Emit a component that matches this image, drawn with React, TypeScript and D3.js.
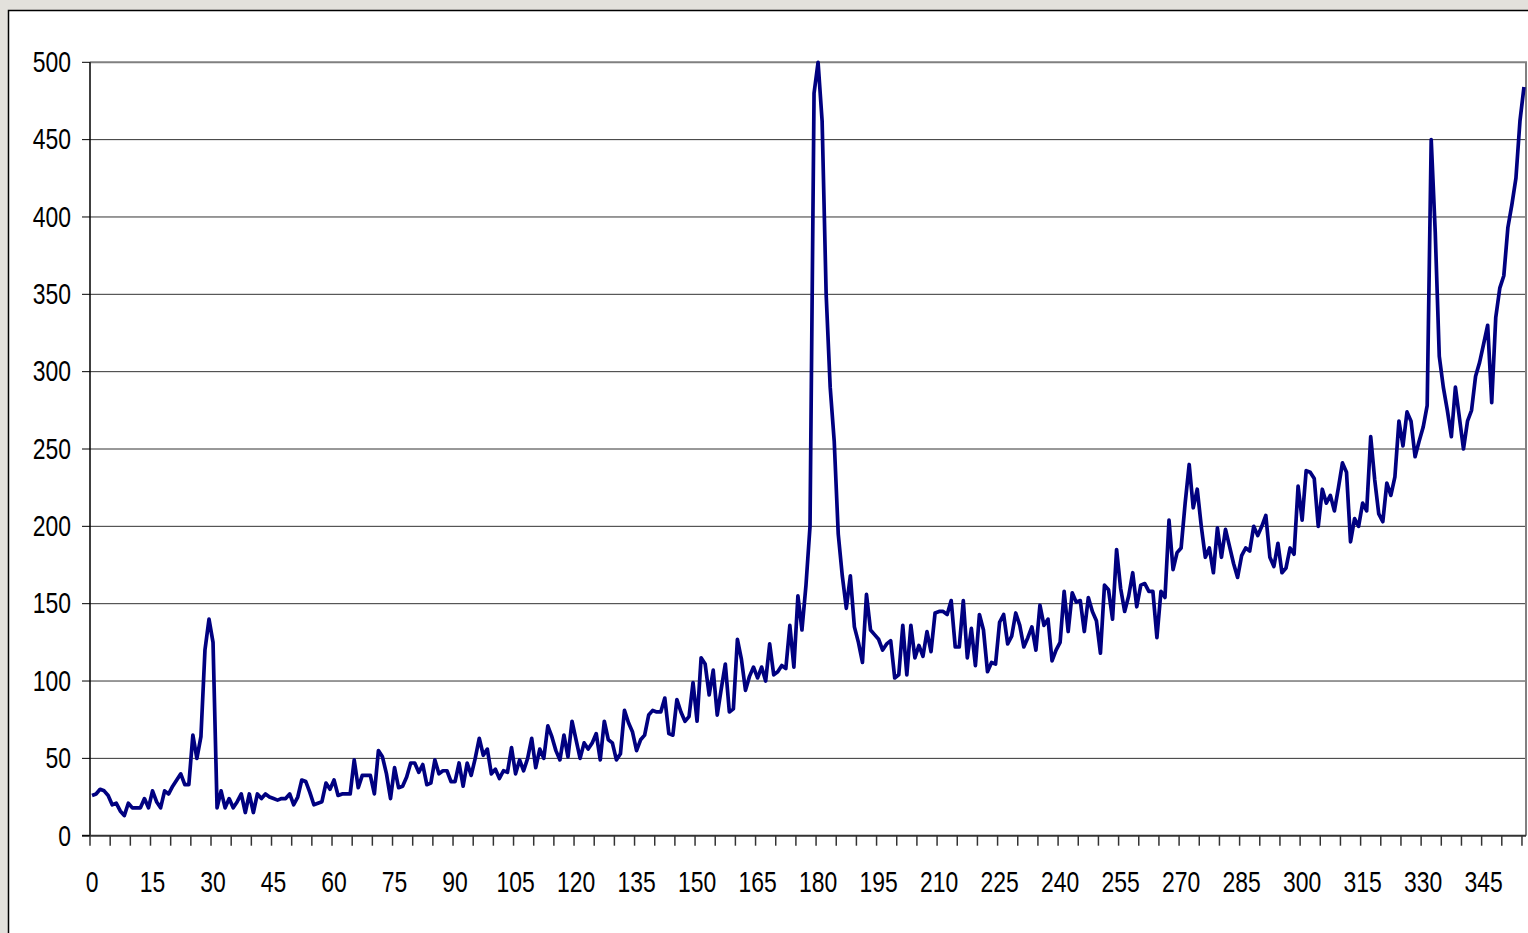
import React, { useEffect, useRef } from 'react';
import * as d3 from 'd3';

const WIDTH = 1528;
const HEIGHT = 933;
const PLOT = { left: 90, right: 1526, top: 62.3, bottom: 835.7 };

// one value per category, 0..355
const VALUES = [
  26, 27, 30, 29, 26, 20, 21, 16, 13, 21,
  18, 18, 18, 24, 18, 29, 22, 18, 29, 27,
  32, 36, 40, 33, 33, 65, 50, 64, 120, 140,
  125, 18, 29, 18, 24, 18, 22, 27, 15, 27,
  15, 27, 24, 27, 25, 24, 23, 24, 24, 27,
  20, 25, 36, 35, 28, 20, 21, 22, 34, 30,
  36, 26, 27, 27, 27, 49, 31, 39, 39, 39,
  27, 55, 51, 40, 24, 44, 31, 32, 38, 47,
  47, 41, 46, 33, 34, 49, 40, 42, 42, 35,
  35, 47, 32, 47, 39, 50, 63, 52, 56, 40,
  43, 37, 42, 41, 57, 40, 49, 42, 50, 63,
  44, 56, 50, 71, 64, 55, 49, 65, 51, 74,
  62, 50, 60, 56, 60, 66, 49, 74, 62, 60,
  49, 53, 81, 73, 67, 55, 62, 65, 78, 81,
  80, 80, 89, 66, 65, 88, 80, 74, 77, 99,
  74, 115, 111, 91, 107, 78, 95, 111, 80, 82,
  127, 114, 94, 103, 109, 102, 109, 100, 124, 104,
  106, 110, 108, 136, 109, 155, 133, 162, 200, 480,
  500, 462, 350, 290, 255, 195, 168, 147, 168, 135,
  125, 112, 156, 133, 130, 127, 120, 124, 126, 102,
  104, 136, 104, 136, 115, 123, 116, 132, 119, 144,
  145, 145, 143, 152, 122, 122, 152, 115, 134, 110,
  143, 133, 106, 112, 111, 138, 143, 124, 129, 144,
  136, 122, 128, 135, 120, 149, 136, 140, 113, 120,
  125, 158, 132, 157, 151, 152, 132, 154, 145, 139,
  118, 162, 159, 140, 185, 160, 145, 155, 170, 148,
  162, 163, 158, 158, 128, 158, 154, 204, 172, 183,
  186, 215, 240, 212, 224, 200, 180, 186, 170, 199,
  180, 198, 187, 176, 167, 181, 186, 184, 200, 194,
  200, 207, 180, 174, 189, 170, 173, 186, 182, 226,
  204, 236, 235, 231, 200, 224, 215, 220, 210, 225,
  241, 235, 190, 205, 200, 215, 210, 258, 230, 208,
  203, 228, 220, 232, 268, 252, 274, 268, 245, 255,
  264, 278, 450, 390, 310, 290, 275, 258, 290, 270,
  250, 268, 275, 297, 306, 318, 330, 280, 335, 354,
  362, 393, 408, 425, 462, 484,
];

const CATEGORIES = VALUES.map((_, i) => i);
const X_LABELS = d3.range(0, 346, 15);
const X_TICKS = d3.range(0, 356, 5);
const Y_TICKS = [0, 50, 100, 150, 200, 250, 300, 350, 400, 450, 500];

const FONT = "'Liberation Sans', Arial, sans-serif";

const App = () => {
  const svgRef = useRef(null);

  useEffect(() => {
    const svg = d3.select(svgRef.current);
    svg.selectAll('*').remove();

    const x = d3
      .scaleBand()
      .domain(CATEGORIES)
      .range([PLOT.left, PLOT.right]);
    const y = d3.scaleLinear().domain([0, 500]).range([PLOT.bottom, PLOT.top]);
    const cx = (i) => x(i) + x.bandwidth() / 2;

    // backdrop + chart area
    svg.append('rect').attr('width', WIDTH).attr('height', HEIGHT).attr('fill', '#e3e1dc');
    svg
      .append('rect')
      .attr('x', 8.5)
      .attr('y', 10.5)
      .attr('width', WIDTH + 20)
      .attr('height', HEIGHT + 20)
      .attr('fill', '#ffffff')
      .attr('stroke', '#000')
      .attr('stroke-width', 1.5);

    // gridlines
    svg
      .append('g')
      .selectAll('line')
      .data(Y_TICKS.filter((d) => d > 0 && d < 500))
      .join('line')
      .attr('x1', PLOT.left)
      .attr('x2', PLOT.right)
      .attr('y1', (d) => y(d))
      .attr('y2', (d) => y(d))
      .attr('stroke', '#333')
      .attr('stroke-width', 1);

    // plot border (top / right grey)
    svg
      .append('path')
      .attr('d', `M${PLOT.left},${y(500)}H${PLOT.right}V${PLOT.bottom}`)
      .attr('fill', 'none')
      .attr('stroke', '#808080')
      .attr('stroke-width', 2);

    // axis lines
    svg
      .append('line')
      .attr('x1', PLOT.left)
      .attr('x2', PLOT.left)
      .attr('y1', PLOT.top)
      .attr('y2', PLOT.bottom)
      .attr('stroke', '#000')
      .attr('stroke-width', 1.5);
    svg
      .append('line')
      .attr('x1', PLOT.left - 8)
      .attr('x2', PLOT.right)
      .attr('y1', PLOT.bottom)
      .attr('y2', PLOT.bottom)
      .attr('stroke', '#333')
      .attr('stroke-width', 2);

    // y ticks + labels
    svg
      .append('g')
      .selectAll('line')
      .data(Y_TICKS)
      .join('line')
      .attr('x1', PLOT.left - 8)
      .attr('x2', PLOT.left)
      .attr('y1', (d) => y(d))
      .attr('y2', (d) => y(d))
      .attr('stroke', '#000')
      .attr('stroke-width', 1);
    svg
      .append('g')
      .selectAll('text')
      .data(Y_TICKS)
      .join('text')
      .attr('transform', (d) => `translate(71,${y(d) + 9.8}) scale(0.79,1)`)
      .attr('text-anchor', 'end')
      .attr('font-family', FONT)
      .attr('font-size', 29)
      .attr('fill', '#000')
      .text((d) => d);

    // x ticks (between categories) + labels
    svg
      .append('g')
      .selectAll('line')
      .data(X_TICKS)
      .join('line')
      .attr('x1', (d) => x(d))
      .attr('x2', (d) => x(d))
      .attr('y1', PLOT.bottom)
      .attr('y2', PLOT.bottom + 10)
      .attr('stroke', '#333')
      .attr('stroke-width', 1.5);
    svg
      .append('g')
      .selectAll('text')
      .data(X_LABELS)
      .join('text')
      .attr('transform', (d) => `translate(${cx(d)},891.5) scale(0.79,1)`)
      .attr('text-anchor', 'middle')
      .attr('font-family', FONT)
      .attr('font-size', 29)
      .attr('fill', '#000')
      .text((d) => d);

    // series
    const line = d3
      .line()
      .x((d, i) => cx(i))
      .y((d) => y(d));

    svg
      .append('path')
      .datum(VALUES)
      .attr('d', line)
      .attr('fill', 'none')
      .attr('stroke', '#000080')
      .attr('stroke-width', 3.7)
      .attr('stroke-linejoin', 'round');
  }, []);

  return (
    <div style={{ position: 'fixed', left: 0, top: 0 }}>
      <svg ref={svgRef} width={WIDTH} height={HEIGHT}></svg>
    </div>
  );
};

export default App;
